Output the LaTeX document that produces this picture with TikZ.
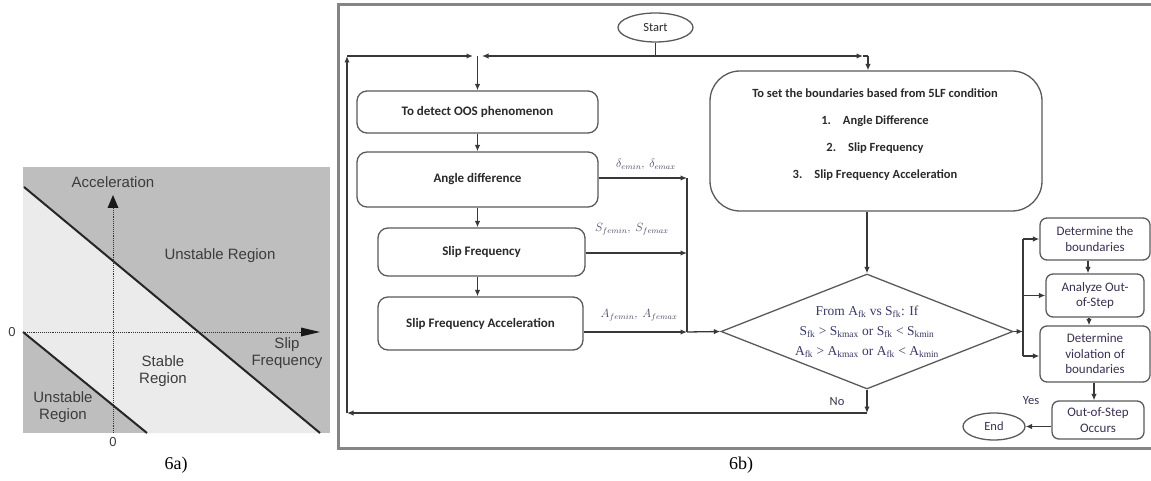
\documentclass[tikz,border=0pt]{standalone}
\usepackage{fontspec}
\setmainfont{Carlito}
\newfontfamily\arialf{Liberation Sans}
\newfontfamily\timesf{Liberation Serif}
\usetikzlibrary{shapes.geometric,arrows.meta}
\definecolor{frm}{HTML}{858585}
\definecolor{ln}{HTML}{383838}
\definecolor{bx}{HTML}{5A5A5A}
\definecolor{tx}{HTML}{2A2A2A}
\definecolor{tx2}{HTML}{3B3052}
\definecolor{dtx}{HTML}{3A3A66}
\definecolor{lab}{HTML}{4A4A6A}
\definecolor{gdark}{HTML}{BEBEBE}
\definecolor{glight}{HTML}{EBEBEB}
\definecolor{gtx}{HTML}{3C3C3C}
\begin{document}
\begin{tikzpicture}[x=1pt,y=-1pt,
 arr/.style={draw=ln, line width=1.3pt, -{Latex[length=6.5pt,width=5.5pt]}},
 lin/.style={draw=ln, line width=1.3pt},
 rbox/.style={draw=bx, line width=1.3pt, rounded corners=10pt, fill=white, inner sep=2pt, align=center, text=tx, font=\fontsize{13}{15}\selectfont\bfseries},
 sbox/.style={draw=bx, line width=1.3pt, rounded corners=7pt, inner sep=2pt, align=center, text=tx2, font=\fontsize{13}{15.5}\selectfont},
 oval/.style={draw=bx, line width=1.3pt, ellipse, inner sep=0pt, text=tx, font=\fontsize{12.5}{15}\selectfont},
 lbl/.style={text=lab, inner sep=0pt, font=\fontsize{11.5}{13}\selectfont},
 sml/.style={text=tx2, inner sep=0pt, font=\fontsize{12.5}{15}\selectfont},
 atx/.style={text=gtx, inner sep=0pt, align=center, font=\arialf\fontsize{15}{16.5}\selectfont},
 captxt/.style={inner sep=0pt, font=\timesf\fontsize{18}{20}\selectfont}
]
\useasboundingbox (0,0) rectangle (1151,481);
\fill[white] (0,0) rectangle (1151,481);

% ---------- panel 6a ----------
\fill[gdark] (23,167) rectangle (330,433);
\fill[glight] (23,187) -- (320,433) -- (147,433) -- (23,332) -- cycle;
\draw[line width=2pt, black!85] (24,187) -- (320,433);
\draw[line width=2pt, black!85] (23,332) -- (147,433);
\draw[densely dotted, line width=0.9pt, black!80] (113,433) -- (113,206);
\fill[black!90] (113,195) -- (107.5,208) -- (118.5,208) -- cycle;
\draw[densely dotted, line width=0.9pt, black!80] (23,332) -- (302,332);
\fill[black!90] (320,332) -- (301,327.5) -- (301,336.5) -- cycle;
\node[atx] (acc) at (113,182) {Acceleration};
\node[atx, font=\arialf\fontsize{13}{15}\selectfont] (z1) at (12,332) {0};
\node[atx, font=\arialf\fontsize{13}{15}\selectfont] (z2) at (113,442) {0};
\node[atx] (ur1) at (220,256) {Unstable Region};
\node[atx, font=\arialf\fontsize{15}{17}\selectfont] (sf) at (287,353) {Slip\\Frequency};
\node[atx] (sr) at (163,371) {Stable\\Region};
\node[atx] (ur2) at (63,407) {Unstable\\Region};
\node[captxt] (c6a) at (176,465) {6a)};

% ---------- panel 6b frame ----------
\draw[frm, line width=3pt] (1170,5) -- (338,5) -- (338,448) -- (1170,448);
\node[captxt] (c6b) at (741,465) {6b)};

% ---------- nodes ----------
\node[oval, minimum width=75pt, minimum height=29pt] (start) at (655.5,27.5) {Start};
\node[rbox, minimum width=241pt, minimum height=42pt] (b1) at (477.5,112) {To detect OOS phenomenon};
\node[rbox, minimum width=241pt, minimum height=55pt] (b2) at (477.5,179.5) {Angle difference};
\node[rbox, minimum width=207pt, minimum height=48pt] (b3) at (481.5,252) {Slip Frequency};
\node[rbox, minimum width=205pt, minimum height=53pt] (b4) at (480.5,323.5) {Slip Frequency Acceleration};
\node[rbox, rounded corners=30pt, minimum width=332pt, minimum height=140pt] (b5) at (876,141) {};
\node[text=tx, inner sep=0pt, align=center, font=\fontsize{12.5}{27}\selectfont\bfseries] (b5t) at (875,135) {To set the boundaries based from 5LF condition\\1.\hspace{12pt}Angle Difference\\2.\hspace{12pt}Slip Frequency\\3.\hspace{12pt}Slip Frequency Acceleration};
\node[draw=bx, line width=1.3pt, diamond, shape aspect=2.54, inner sep=0pt, minimum width=292pt, minimum height=115pt, align=center, text=dtx, font=\timesf\fontsize{13.5}{20}\selectfont] (d) at (867,331.5)
 {From A\textsubscript{fk} vs S\textsubscript{fk}: If\\
  S\textsubscript{fk} > S\textsubscript{kmax} or S\textsubscript{fk} < S\textsubscript{kmin}\\
  A\textsubscript{fk} > A\textsubscript{kmax} or A\textsubscript{fk} < A\textsubscript{kmin}};
\node[sbox, minimum width=110pt, minimum height=42pt] (b6) at (1095,239) {Determine the\\boundaries};
\node[sbox, minimum width=98pt, minimum height=43pt] (b7) at (1095,295.5) {Analyze Out-\\of-Step};
\node[sbox, minimum width=110pt, minimum height=56pt] (b8) at (1095,354) {Determine\\violation of\\boundaries};
\node[sbox, minimum width=92pt, minimum height=38pt] (b9) at (1098,420) {Out-of-Step\\Occurs};
\node[oval, text=tx2, minimum width=62pt, minimum height=27pt] (end) at (994,426.5) {End};

% ---------- labels ----------
\node[lbl] (ld) at (646,165) {$\delta_{emin},\ \delta_{emax}$};
\node[lbl] (ls) at (632,229) {$S_{femin},\ S_{femax}$};
\node[lbl] (la) at (639,315) {$A_{femin},\ A_{femax}$};
\node[sml] (no) at (837,402) {No};
\node[sml] (yes) at (1031,401) {Yes};

% ---------- coordinates ----------
\coordinate (j0) at (655.5,56);
\coordinate (jl) at (477.5,56);
\coordinate (jla) at (482,56);
\coordinate (jlb) at (473,56);
\coordinate (jra) at (863,56);
\coordinate (jr) at (868,56);
\coordinate (lt) at (347,56);
\coordinate (lb) at (347,413);
\coordinate (nb) at (867,413);
\coordinate (cx) at (687,0);
\coordinate (ya) at (0,332);
\coordinate (rx) at (1023,0);
\coordinate (x1) at (1088,0);
\coordinate (x2) at (1089,0);
\coordinate (x3) at (1094,0);

% ---------- connectors ----------
\draw[lin] (start.south) -- (j0);
\draw[arr] (j0) -- (jla);
\draw[arr] (j0) -- (jra);
\draw[lin] (jra) -- (jr);
\draw[arr] (jr) -- (b5.north -| jr);
\draw[arr] (jl) -- (b1.north);
\draw[arr] (b1.south) -- (b2.north);
\draw[arr] (b2.south) -- (b2.south |- b3.north);
\draw[arr] (b3.south -| b2.south) -- (b4.north -| b2.south);
\draw[arr] (b2.east |- 0,178) -- (cx |- 0,178);
\draw[arr] (b3.east |- 0,253) -- (cx |- 0,253);
\draw[arr] (b4.east |- ya) -- (cx |- ya);
\draw[lin] (cx |- 0,178) -- (cx |- ya);
\draw[arr] (cx |- ya) -- (d.west);
\draw[arr] (b5.south -| d.north) -- (d.north);
\draw[arr] (d.south) -- (nb);
\draw[arr] (nb) -- (lb);
\draw[arr] (lb) -- (lt);
\draw[arr] (lt) -- (jlb);
\draw[arr] (d.east) -- (rx |- d.east);
\draw[lin] (rx |- b6.west) -- (rx |- 0,356);
\draw[arr] (rx |- b6.west) -- (b6.west);
\draw[arr] (rx |- b7.west) -- (b7.west);
\draw[arr] (rx |- 0,356) -- (b8.west |- 0,356);
\draw[arr] (b6.south -| x1) -- (b7.north -| x1);
\draw[arr] (b7.south -| x2) -- (b8.north -| x2);
\draw[arr] (b8.south -| x3) -- (b9.north -| x3);
\draw[arr] (b9.west |- end.east) -- (end.east);
\end{tikzpicture}
\end{document}
